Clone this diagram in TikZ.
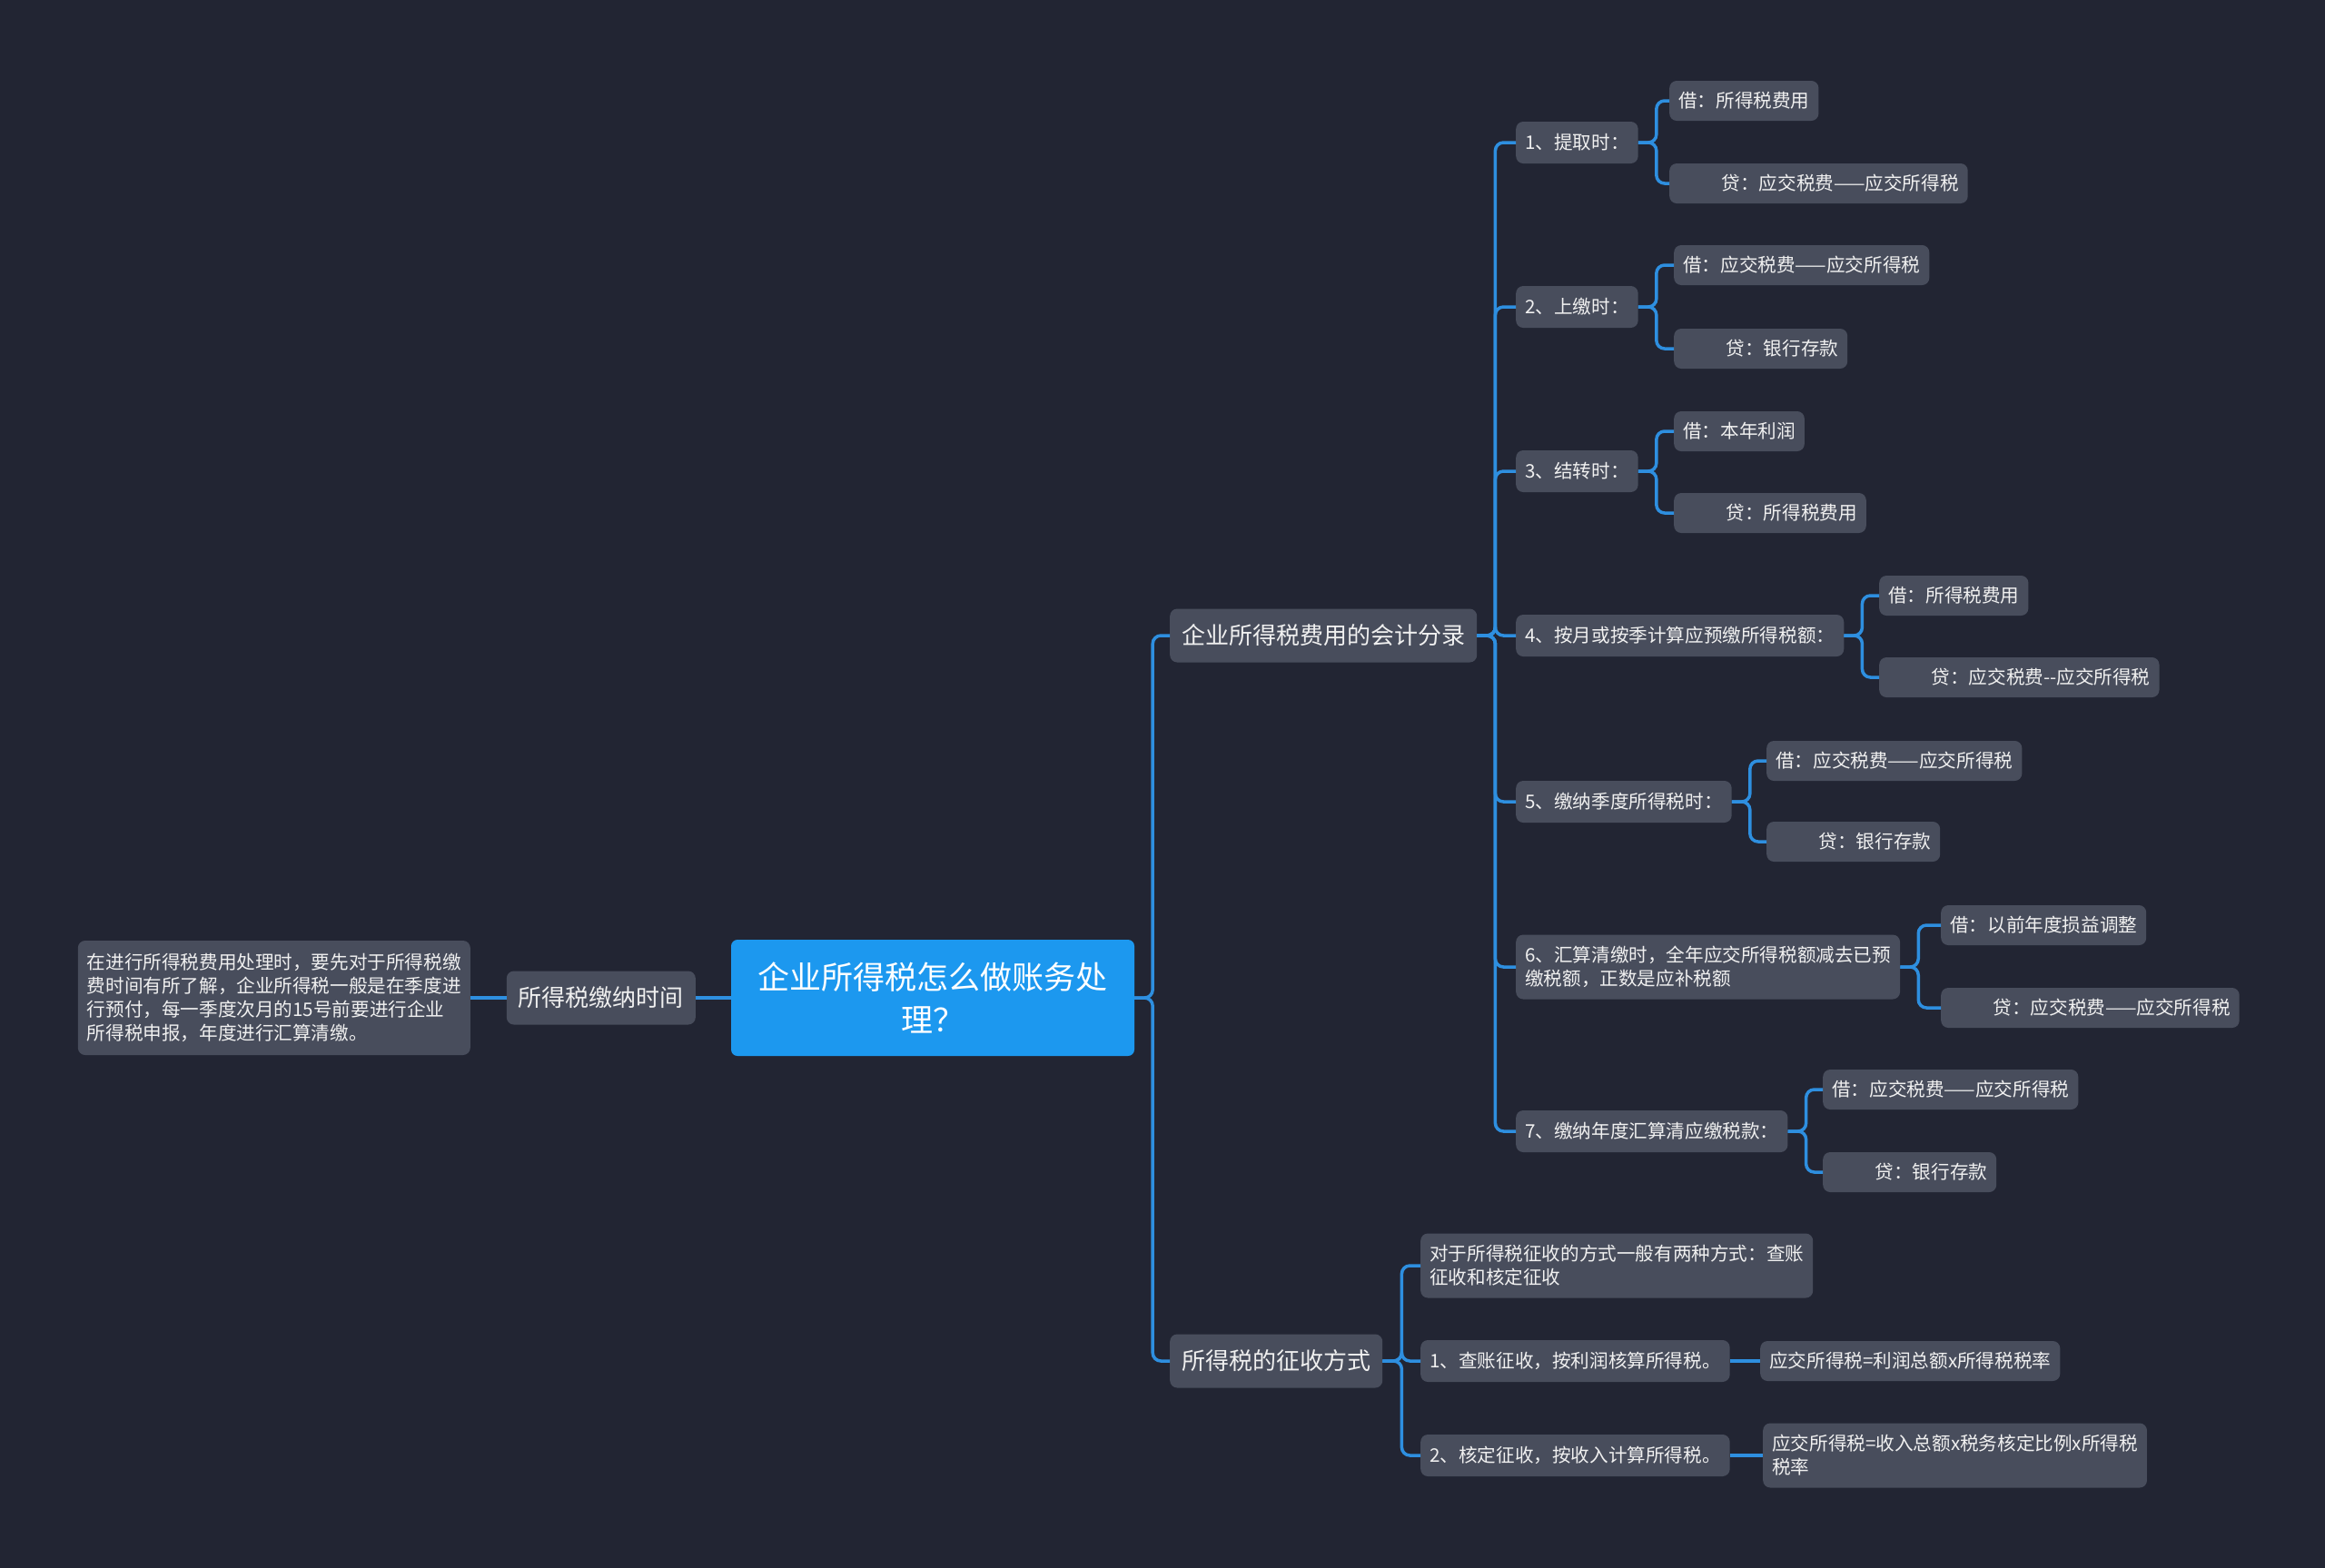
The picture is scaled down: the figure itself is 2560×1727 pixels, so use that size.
\documentclass[tikz,border=0pt]{standalone}
\usepackage{fontspec}
\setmainfont{Noto Sans CJK SC}
\usepackage{tikz}
\usetikzlibrary{positioning}
\definecolor{bgdark}{HTML}{222533}
\definecolor{boxgray}{HTML}{484D5C}
\definecolor{rootblue}{HTML}{1C98EF}
\definecolor{linkblue}{HTML}{2E8FE0}
\definecolor{textlight}{HTML}{F0F0F0}

\begin{document}
\begin{tikzpicture}[x=1pt, y=-1pt,
    rootnode/.style={rectangle, rounded corners=7pt, fill=rootblue, text=white, align=center,
      font=\fontsize{35}{47}\selectfont, minimum width=444pt, minimum height=128pt, text width=392pt},
    topicnode/.style={rectangle, rounded corners=8pt, fill=boxgray, text=textlight,
      font=\fontsize{26}{32}\selectfont, inner xsep=13pt, minimum height=59pt},
    itemnode/.style={rectangle, rounded corners=8pt, fill=boxgray, text=textlight, align=left,
      font=\fontsize{20.6}{26}\selectfont, inner xsep=10pt, minimum height=46pt, anchor=west},
    leafnode/.style={itemnode, minimum height=44pt},
    link/.style={draw=linkblue, line width=3.5pt, rounded corners=9pt}]
  \fill[bgdark] (0,0) rectangle (2560,1727);

  % root and left branch
  \node[rootnode] (root) at (1027,1099) {企业所得税怎么做账务处\\理？};
  \node[topicnode, anchor=east] (paytime) at (766,1099) {所得税缴纳时间};
  \node[itemnode, anchor=east, minimum height=126pt, minimum width=430pt] (paynote) at (518,1099) {在进行所得税费用处理时，要先对于所得税缴\\费时间有所了解，企业所得税一般是在季度进\\行预付，每一季度次月的15号前要进行企业\\所得税申报，年度进行汇算清缴。};

  % right topics
  \node[topicnode, anchor=west] (entries) at (1288,700) {企业所得税费用的会计分录};
  \node[topicnode, anchor=west] (collect) at (1288,1499) {所得税的征收方式};

  % accounting entries
  \node[itemnode] (e1) at (1669,157) {1、提取时：};
  \node[itemnode] (e2) at (1669,338) {2、上缴时：};
  \node[itemnode] (e3) at (1669,519) {3、结转时：};
  \node[itemnode] (e4) at (1669,700) {4、按月或按季计算应预缴所得税额：};
  \node[itemnode] (e5) at (1669,883) {5、缴纳季度所得税时：};
  \node[itemnode, minimum height=71pt] (e6) at (1669,1065) {6、汇算清缴时，全年应交所得税额减去已预\\缴税额，正数是应补税额};
  \node[itemnode] (e7) at (1669,1246) {7、缴纳年度汇算清应缴税款：};

  \node[leafnode] (e1a) at (1838,111) {借：所得税费用};
  \node[leafnode] (e1b) at (1838,202) {\hspace{2.3em}贷：应交税费——应交所得税};
  \node[leafnode] (e2a) at (1843,292) {借：应交税费——应交所得税};
  \node[leafnode] (e2b) at (1843,384) {\hspace{2.3em}贷：银行存款};
  \node[leafnode] (e3a) at (1843,475) {借：本年利润};
  \node[leafnode] (e3b) at (1843,565) {\hspace{2.3em}贷：所得税费用};
  \node[leafnode] (e4a) at (2069,656) {借：所得税费用};
  \node[leafnode] (e4b) at (2069,746) {\hspace{2.3em}贷：应交税费-{}-应交所得税};
  \node[leafnode] (e5a) at (1945,838) {借：应交税费——应交所得税};
  \node[leafnode] (e5b) at (1945,927) {\hspace{2.3em}贷：银行存款};
  \node[leafnode] (e6a) at (2137,1019) {借：以前年度损益调整};
  \node[leafnode] (e6b) at (2137,1110) {\hspace{2.3em}贷：应交税费——应交所得税};
  \node[leafnode] (e7a) at (2007,1200) {借：应交税费——应交所得税};
  \node[leafnode] (e7b) at (2007,1291) {\hspace{2.3em}贷：银行存款};

  % collection methods
  \node[itemnode, minimum height=71pt] (c0) at (1564,1394) {对于所得税征收的方式一般有两种方式：查账\\征收和核定征收};
  \node[itemnode] (c1) at (1564,1499) {1、查账征收，按利润核算所得税。};
  \node[itemnode] (c2) at (1564,1603) {2、核定征收，按收入计算所得税。};
  \node[leafnode] (c1a) at (1938,1499) {应交所得税=利润总额x所得税税率};
  \node[leafnode, minimum height=71pt] (c2a) at (1941,1603) {应交所得税=收入总额x税务核定比例x所得税\\税率};

  % connectors
  \draw[link] (root.west) -- (paytime.east);
  \draw[link] (paytime.west) -- (paynote.east);
  \foreach \child in {entries, collect}
    \draw[link] (root.east) -- ++(20,0) |- (\child.west);
  \foreach \child in {e1, e2, e3, e4, e5, e6, e7}
    \draw[link] (entries.east) -- ++(20,0) |- (\child.west);
  \foreach \parent in {e1, e2, e3, e4, e5, e6, e7} {
    \draw[link] (\parent.east) -- ++(20,0) |- (\parent a.west);
    \draw[link] (\parent.east) -- ++(20,0) |- (\parent b.west);
  }
  \foreach \child in {c0, c1, c2}
    \draw[link] (collect.east) -- ++(21,0) |- (\child.west);
  \draw[link] (c1.east) -- (c1a.west);
  \draw[link] (c2.east) -- (c2a.west);
\end{tikzpicture}
\end{document}
